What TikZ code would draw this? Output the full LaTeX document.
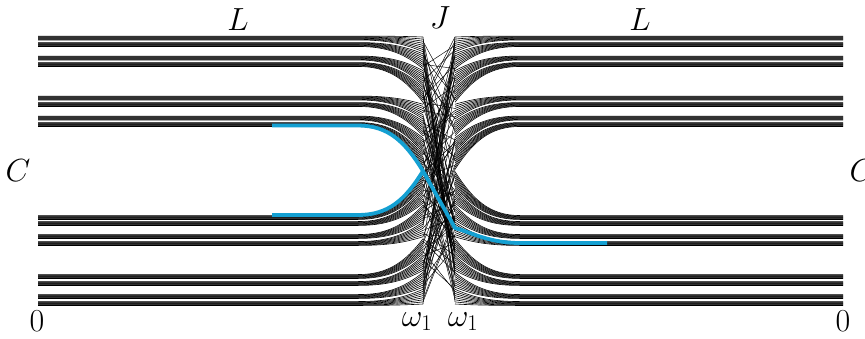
\documentclass[tikz,border=0pt]{standalone}
\usepackage{fix-cm}
\definecolor{pathblue}{RGB}{20,160,210}
\begin{document}
\begin{tikzpicture}[x=1pt,y=-1pt,
  fanline/.style={line width=0.6pt,black},
  crossline/.style={line width=0.45pt,black},
  blueline/.style={line width=3.8pt,pathblue,line join=round},
  lbl/.style={font=\fontsize{32}{38}\selectfont,inner sep=0pt}]
\useasboundingbox (0,0) rectangle (865,338);
% fan-in / fan-out bundles
\foreach \b/\c in {0/38,1/44.5,2/58,3/64.5,4/98,5/104.5,6/118,7/124.5,8/217.5,9/223.5,10/236.5,11/243.5,12/276.5,13/283.5,14/296.5,15/303.5} {
  \foreach \m in {0,...,7} {
    \pgfmathsetmacro\yy{\c-1.95+0.557*\m}
    \pgfmathsetmacro\pp{37+(8*\b+\m)*2.10236}
    \draw[fanline] (38,\yy) -- (358,\yy) .. controls (388,\yy) and (405,{\yy+0.35*(\pp-\yy)}) .. (423,\pp);
    \draw[fanline] (843,\yy) -- (520,\yy) .. controls (490,\yy) and (473,{\yy+0.35*(\pp-\yy)}) .. (455,\pp);
  }
}
% random junction
\pgfmathsetseed{12}
\foreach \i in {0,...,127} {
  \pgfmathrandominteger{\j}{0}{127}
  \pgfmathsetmacro\pa{37+\i*2.10236}
  \pgfmathsetmacro\pb{37+\j*2.10236}
  \draw[crossline] (423,\pa) -- (455,\pb);
}
% highlighted path
\coordinate (bA) at (272,125.5);
\coordinate (bB) at (272,215);
\coordinate (bM) at (423,171);
\coordinate (bR) at (455,228);
\coordinate (bE) at (607,243);
\draw[blueline] (bA) -- (358,125.5) .. controls (388,125.5) and (405,141.4) .. (bM) -- (bR) .. controls (473,233.2) and (490,243) .. (520,243) -- (bE);
\draw[blueline] (bB) -- (358,215) .. controls (388,215) and (405,200.3) .. (bM);
% labels
\node[lbl] (L1) at (238,20) {$L$};
\node[lbl] (J) at (440,18) {$J$};
\node[lbl] (L2) at (640,20) {$L$};
\node[lbl] (C1) at (18,171) {$C$};
\node[lbl] (C2) at (862,171) {$C$};
\node[lbl,anchor=base] (z1) at (37,331) {$0$};
\node[lbl,anchor=base] (z2) at (843,331) {$0$};
\node[lbl,anchor=base] (w1) at (417,326) {$\omega_1$};
\node[lbl,anchor=base] (w2) at (463,326) {$\omega_1$};
\end{tikzpicture}
\end{document}
